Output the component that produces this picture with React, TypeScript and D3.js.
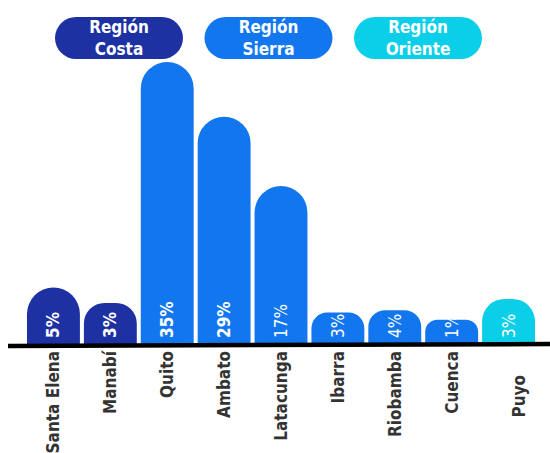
import React from "react";
import * as d3 from "d3";

const categories = ["Santa Elena", "Manabí", "Quito", "Ambato", "Latacunga", "Ibarra", "Riobamba", "Cuenca", "Puyo"];
const regions = ["Costa", "Costa", "Sierra", "Sierra", "Sierra", "Sierra", "Sierra", "Sierra", "Oriente"];
const valueLabels = ["5%", "3%", "35%", "29%", "17%", "3%", "4%", "1%", "3%"];
// bar heights as drawn in the picture (in percent units)
const barValues = [7.0, 5.1, 35, 28.2, 19.6, 3.9, 4.2, 3.0, 5.6];
const legendRegions = ["Costa", "Sierra", "Oriente"];

const W = 550;
const H = 453;
const colors: Record<string, string> = { Costa: "#1d31a3", Sierra: "#1277ef", Oriente: "#0bcfe8" };
const FONT = "'DejaVu Sans Condensed', sans-serif";
const boldLabel = [true, true, true, true, false, false, false, false, false];

function barPath(x: number, y: number, w: number, base: number) {
  const h = base - y;
  const r = Math.min(w / 2, h / 2);
  return `M${x},${base} L${x},${y + r} A${r},${r} 0 0 1 ${x + r},${y} L${x + w - r},${y} A${r},${r} 0 0 1 ${x + w},${y + r} L${x + w},${base} Z`;
}

export default function App() {
  const base = 344;
  const x = d3.scaleBand<string>().domain(categories).range([27, 535]).paddingInner(0.07).paddingOuter(0);
  const y = d3.scaleLinear().domain([0, 35]).range([base, 62]);
  const bw = x.bandwidth();
  const legendX = d3.scalePoint<string>().domain(legendRegions).range([119, 418]);

  return (
    <svg width={W} height={H} style={{ position: "absolute", left: 0, top: 0, background: "#fff" }}>
      {categories.map((c, i) => {
        const x0 = x(c)!;
        const cx = x0 + bw / 2;
        return (
          <g key={c}>
            <path d={barPath(x0, y(barValues[i]), bw, base)} fill={colors[regions[i]]} />
            <text
              transform={`translate(${cx + 6},${base - 6}) rotate(-90)`}
              fill="#fff"
              fontFamily={FONT}
              fontSize={17}
              fontWeight={boldLabel[i] ? 700 : 400}
            >
              {valueLabels[i]}
            </text>
          </g>
        );
      })}
      <line x1={8} x2={550} y1={346} y2={344} stroke="#000" strokeWidth={4.5} />
      {categories.map((c, i) => {
        const cx = x(c)! + bw / 2 + (i === 8 ? 10 : 0);
        const top = i === 8 ? 375 : 351;
        return (
          <text
            key={c}
            transform={`translate(${cx + 6},${top}) rotate(-90)`}
            textAnchor="end"
            fill="#333"
            fontFamily={FONT}
            fontSize={17}
            fontWeight={600}
          >
            {c}
          </text>
        );
      })}
      {legendRegions.map((r) => {
        const cx = legendX(r)!;
        return (
          <g key={r}>
            <rect x={cx - 64} y={17} width={128} height={42} rx={21} fill={colors[r]} />
            <text x={cx} y={33} textAnchor="middle" fill="#fff" fontFamily={FONT} fontSize={17} fontWeight={700}>
              Región
            </text>
            <text x={cx} y={55} textAnchor="middle" fill="#fff" fontFamily={FONT} fontSize={17} fontWeight={700}>
              {r}
            </text>
          </g>
        );
      })}
    </svg>
  );
}
